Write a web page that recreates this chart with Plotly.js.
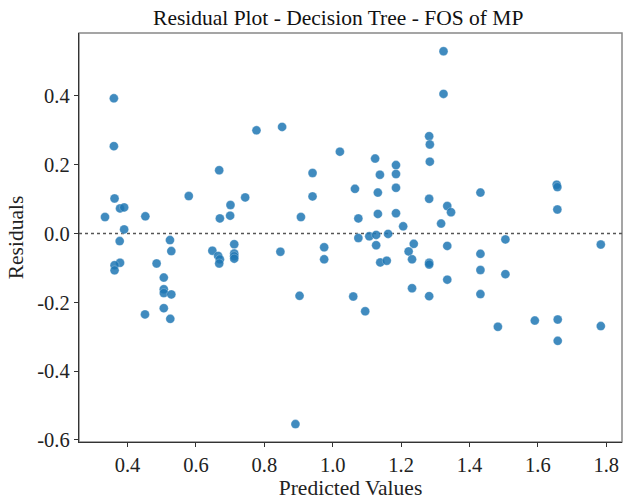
<!DOCTYPE html>
<html>
<head>
<meta charset="utf-8">
<script src="https://cdn.plot.ly/plotly-3.0.1.min.js"></script>
<style>html,body{margin:0;padding:0;background:#fff;}#chart{width:624px;height:501px;}</style>
</head>
<body>
<div id="chart"></div>
<script>
const predicted = [
  0.334,0.360,0.360,0.362,0.378,0.390,0.390,0.377,0.378,0.362,0.362,0.452,0.451,0.485,0.524,0.528,
  0.506,0.506,0.506,0.528,0.506,0.525,0.579,0.668,0.670,0.701,0.700,0.648,0.665,0.670,0.668,
  0.712,0.712,0.712,0.712,0.744,0.777,0.852,0.847,0.907,0.903,0.891,0.941,0.941,0.975,0.975,
  1.021,1.065,1.075,1.075,1.060,1.095,1.107,1.124,1.138,1.132,1.132,1.127,1.127,1.139,1.158,1.162,
  1.185,1.185,1.185,1.185,1.206,1.237,1.222,1.232,1.232,1.282,1.284,1.284,1.282,1.282,1.282,1.282,
  1.317,1.324,1.324,1.335,1.346,1.335,1.335,1.432,1.432,1.432,1.432,1.483,1.505,1.505,1.591,
  1.655,1.657,1.657,1.658,1.658,1.784,1.784
];
const residuals = [
  0.048,0.393,0.254,0.102,0.073,0.076,0.012,-0.022,-0.085,-0.092,-0.107,0.050,-0.235,-0.087,-0.019,-0.051,
  -0.128,-0.162,-0.173,-0.177,-0.217,-0.248,0.109,0.184,0.044,0.083,0.052,-0.050,-0.065,-0.075,-0.087,
  -0.031,-0.058,-0.066,-0.073,0.105,0.300,0.310,-0.053,0.048,-0.181,-0.554,0.176,0.108,-0.040,-0.075,
  0.238,0.130,0.044,-0.013,-0.183,-0.226,-0.008,0.218,0.171,0.119,0.057,-0.004,-0.034,-0.084,-0.079,-0.001,
  0.199,0.173,0.133,0.059,0.021,-0.030,-0.052,-0.075,-0.159,0.283,0.259,0.209,0.101,-0.085,-0.090,-0.182,
  0.029,0.530,0.406,0.080,0.062,-0.036,-0.134,0.119,-0.059,-0.106,-0.176,-0.271,-0.017,-0.118,-0.253,
  0.142,0.135,0.070,-0.250,-0.312,-0.032,-0.269
];
const xTickVals = [0.4,0.6,0.8,1.0,1.2,1.4,1.6,1.8];
const xTickText = ["0.4","0.6","0.8","1.0","1.2","1.4","1.6","1.8"];
const yTickVals = [-0.6,-0.4,-0.2,0.0,0.2,0.4];
const yTickText = ["-0.6","-0.4","-0.2","0.0","0.2","0.4"];

const font = "Liberation Serif, Times New Roman, serif";
const trace = {
  x: predicted, y: residuals, type: 'scatter', mode: 'markers',
  marker: {color: '#1f77b4', opacity: 0.85, size: 9, line: {color: 'rgba(255,255,255,0.6)', width: 0.5}},
  hoverinfo: 'skip'
};
const layout = {
  width: 624, height: 501,
  margin: {l: 79, r: 2, t: 33, b: 59},
  paper_bgcolor: '#fff', plot_bgcolor: '#fff',
  showlegend: false,
  font: {family: font, size: 20, color: '#222'},
  title: {text: 'Residual Plot - Decision Tree - FOS of MP', font: {family: font, size: 21.5, color: '#111'},
          x: 0.542, xref: 'container', xanchor: 'center', y: 0.966, yref: 'container', yanchor: 'middle'},
  xaxis: {range: [0.258, 1.846], tickvals: xTickVals, ticktext: xTickText, ticks: 'outside', ticklen: 4,
          tickcolor: '#333', showline: true, linecolor: '#333', linewidth: 1.2, showgrid: false, zeroline: false,
          tickfont: {family: font, size: 20.5, color: '#222'},
          title: {text: 'Predicted Values', font: {family: font, size: 21.5, color: '#222'}, standoff: 5}},
  yaxis: {range: [-0.606, 0.583], tickvals: yTickVals, ticktext: yTickText, ticks: 'outside', ticklen: 4,
          tickcolor: '#333', showline: true, linecolor: '#333', linewidth: 1.2, showgrid: false, zeroline: false,
          tickfont: {family: font, size: 20.5, color: '#222'},
          title: {text: 'Residuals', font: {family: font, size: 21.5, color: '#222'}, standoff: 7}},
  shapes: [
    {type: 'rect', xref: 'paper', yref: 'paper', x0: 0, x1: 1, y0: 0, y1: 1, line: {color: '#888', width: 1.5}, layer: 'below'},
    {type: 'line', xref: 'paper', yref: 'y', x0: 0, x1: 1, y0: 0, y1: 0, line: {color: '#555', width: 1.6, dash: 'dot'}, layer: 'below'}
  ]
};
Plotly.newPlot('chart', [trace], layout, {staticPlot: true, displayModeBar: false});
</script>
</body>
</html>
